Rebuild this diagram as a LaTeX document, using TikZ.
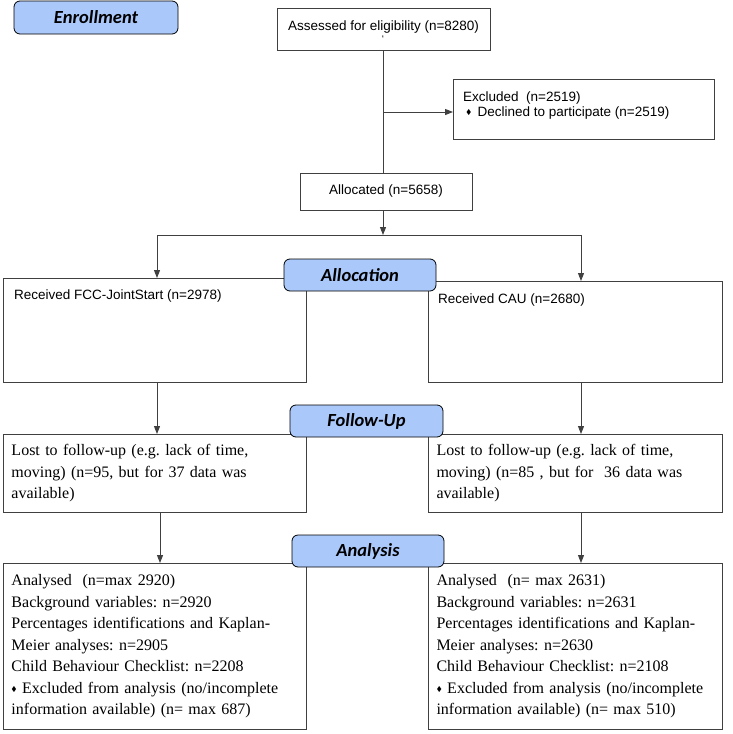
\documentclass[tikz,border=0pt]{standalone}
\usepackage{amssymb}
\usepackage{fontspec}
\setmainfont{Liberation Serif}
\setsansfont{Liberation Sans}
\newfontfamily\stagefont{Carlito}
\definecolor{flowblue}{RGB}{170,200,250}
\definecolor{flowgray}{RGB}{64,64,64}
\usetikzlibrary{arrows.meta,positioning}
\newcommand{\bul}{\raisebox{1.5pt}{\scriptsize$\blacklozenge$}}
\frenchspacing

\begin{document}
\begin{tikzpicture}[x=1pt,y=-1pt,
    every node/.style={inner sep=0pt},
    box/.style={draw=flowgray,line width=1pt,anchor=north west},
    stage/.style={draw=black,line width=0.8pt,fill=flowblue,rounded corners=6pt,
                  minimum width=152pt,minimum height=32pt,
                  font=\stagefont\bfseries\itshape\fontsize{18.5}{20}\selectfont},
    sanstxt/.style={font=\sffamily\fontsize{13.5}{15}\selectfont,align=left},
    sertxt/.style={font=\fontsize{16}{21.5}\selectfont,align=left,inner xsep=8pt},
    line/.style={draw=flowgray,line width=1pt},
    arr/.style={line,-{Triangle[length=8pt,width=6pt]}}]

  \useasboundingbox (0,0) rectangle (732,734);

  %% Enrollment
  \node[stage,minimum width=164pt,minimum height=33pt] (enroll) at (96,17.5) {Enrollment};
  \node[box,minimum width=213pt,minimum height=42pt] (assess) at (277,8) {};
  \node[sanstxt] (assesstxt) at (383.5,27) {Assessed for eligibility (n=8280)};
  \node[font=\sffamily\fontsize{10}{10}\selectfont] (tick) at (383,39) {\symbol{96}};
  \node[box,minimum width=261pt,minimum height=60pt] (excl) at (453,79) {};
  \node[sanstxt,anchor=west] (excltxt) at (463,105.5)
    {Excluded~~(n=2519)\\\hspace*{3pt}\bul\hspace{6pt}Declined to participate (n=2519)};
  \node[box,minimum width=172pt,minimum height=37pt] (alloc) at (300,173) {};
  \node[sanstxt] (alloctxt) at (386,191.5) {Allocated (n=5658)};

  \coordinate (exclfork) at (383,112);
  \coordinate (split) at (383,235);
  \coordinate (splitL) at (157,235);
  \coordinate (splitR) at (581,235);

  %% Allocation
  \node[box,minimum width=303pt,minimum height=104pt] (allocL) at (3,278) {};
  \node[box,minimum width=294pt,minimum height=101pt] (allocR) at (428,281) {};
  \node[sanstxt,anchor=west] (recvL) at (14,296) {Received FCC-JointStart (n=2978)};
  \node[sanstxt,anchor=west] (recvR) at (438,300) {Received CAU (n=2680)};

  %% Follow-up
  \node[box,sertxt,minimum width=303pt,minimum height=78pt,text width=287pt] (fuL) at (3,434)
    {Lost to follow-up (e.g. lack of time,\\moving) (n=95, but for 37 data was\\available)};
  \node[box,sertxt,minimum width=294pt,minimum height=78pt,text width=278pt] (fuR) at (428,434)
    {Lost to follow-up (e.g. lack of time,\\moving) (n=85 , but for~~36 data was\\available)};

  %% Analysis
  \node[box,sertxt,minimum width=303pt,minimum height=166pt,text width=287pt] (anL) at (3,563)
    {Analysed~~(n=max 2920)\\Background variables: n=2920\\Percentages identifications and Kaplan-\\Meier analyses: n=2905\\Child Behaviour Checklist: n=2208\\\bul\ Excluded from analysis (no/incomplete\\information available) (n= max 687)};
  \node[box,sertxt,minimum width=294pt,minimum height=166pt,text width=278pt] (anR) at (428,563)
    {Analysed~~(n= max 2631)\\Background variables: n=2631\\Percentages identifications and Kaplan-\\Meier analyses: n=2630\\Child Behaviour Checklist: n=2108\\\bul\ Excluded from analysis (no/incomplete\\information available) (n= max 510)};

  %% Connectors
  \draw[line] (assess.south -| exclfork) -- (alloc.north -| exclfork);
  \draw[arr] (exclfork) -- (exclfork -| excl.west);
  \draw[arr] (alloc.south -| split) -- (split);
  \draw[line] (splitL) -- (splitR);
  \draw[arr] (splitL) -- (splitL |- allocL.north);
  \draw[arr] (splitR) -- (splitR |- allocR.north);
  \draw[arr] (allocL.south -| splitL) -- (fuL.north -| splitL);
  \draw[arr] (allocR.south -| splitR) -- (fuR.north -| splitR);
  \draw[arr] ([xshift=3pt]fuL.south -| splitL) -- ([xshift=3pt]anL.north -| splitL);
  \draw[arr] (fuR.south -| splitR) -- (anR.north -| splitR);

  %% Stage labels
  \node[stage] (allocstage) at (360,275) {Allocation};
  \node[stage,minimum width=153pt] (fustage) at (366.5,421) {Follow-Up};
  \node[stage] (anstage) at (368,551) {Analysis};
\end{tikzpicture}
\end{document}
